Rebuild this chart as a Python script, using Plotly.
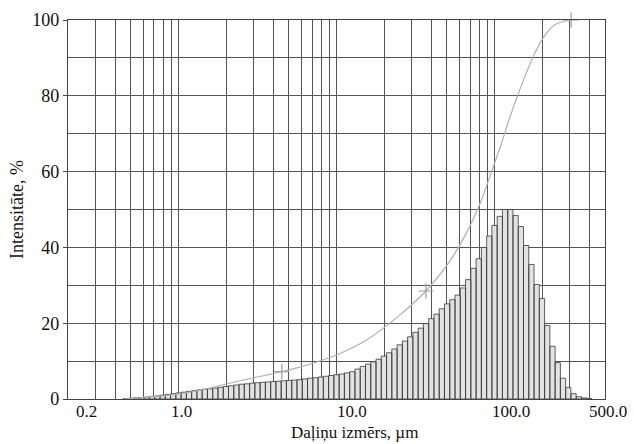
import numpy as np
import plotly.graph_objects as go

# ---------------- data ----------------
# Instrument size classes: log-spaced bins (30 per decade) starting at 10**-0.35 um
bin_log_start = -0.35
bins_per_decade = 30

# Bar heights (intensity, %), one per size class
intensity = [
    0.1, 0.2, 0.3, 0.4, 0.5, 0.7, 0.8, 1.0, 1.2, 1.4,
    1.6, 1.8, 2.0, 2.2, 2.4, 2.6, 2.7, 2.9, 3.1, 3.3,
    3.5, 3.7, 3.9, 4.0, 4.2, 4.3, 4.4, 4.5, 4.6, 4.7,
    4.8, 4.9, 5.0, 5.1, 5.3, 5.5, 5.6, 5.8, 6.0, 6.2,
    6.4, 6.6, 6.9, 7.2, 7.9, 8.6, 9.2, 9.8, 10.5, 11.3,
    12.2, 13.2, 14.3, 15.3, 16.4, 17.6, 18.7, 19.9, 21.2, 22.4,
    23.8, 25.1, 26.2, 27.4, 29.3, 31.5, 34.5, 37.0, 40.0, 43.0,
    45.8, 48.2, 50.0, 50.0, 48.4, 45.5, 40.5, 35.5, 30.2, 26.5,
    19.4, 13.9, 9.6, 5.5, 3.0, 1.4, 0.6, 0.3, 0.1,
]

# Cumulative curve (size um, %)
cum_size = [0.45, 0.89, 1.37, 1.98, 2.84, 4.51, 5.85, 9.44, 12.4, 15.4,
            24.9, 36.8, 51.4, 65.8, 81.7, 95.8, 110.7, 124.3, 152, 181,
            209, 242, 284, 305]
cum_value = [0, 1.0, 2.3, 3.9, 5.4, 7.2, 8.4, 11.2, 13.4, 15.5,
             22.0, 28.5, 36.0, 43.5, 52.0, 60.0, 67.5, 74.0, 84.0, 91.5,
             96.0, 98.8, 99.8, 100]

# Marked points on the cumulative curve
mark_size = [4.51, 36.8, 305]
mark_value = [7.2, 28.5, 100]

x_tick_vals = [0.2, 1, 10, 100, 500]
x_tick_text = ["0.2", "1.0", "10.0", "100.0", "500.0"]
x_grid_vals = ([m * 0.1 for m in range(2, 10)] + list(range(1, 10))
               + [10 * m for m in range(1, 10)] + [100 * m for m in range(1, 6)])
y_tick_vals = [0, 20, 40, 60, 80, 100]

x_title = "Daļiņu izmērs, µm"
y_title = "Intensitāte, %"

# label offsets (style, px) as printed in the original
x_label_shift = [18, 3, 15, 16, 3]

# ---------------- figure ----------------
n = len(intensity)
edges = 10 ** (bin_log_start + np.arange(n + 1) / bins_per_decade)

bx, by = [], []
for i, h in enumerate(intensity):
    lo, hi = edges[i], edges[i + 1]
    bx += [lo, lo, hi, hi, lo, None]
    by += [0, h, h, 0, 0, None]

FONT = "Liberation Serif"
GRID = "#555555"

fig = go.Figure()
fig.add_trace(go.Scatter(
    x=bx, y=by, mode="lines", fill="toself", fillcolor="#e2e2e2",
    line=dict(color="#3a3a3a", width=0.8), hoverinfo="skip", showlegend=False))
fig.add_trace(go.Scatter(
    x=cum_size, y=cum_value, mode="lines",
    line=dict(color="#b0b0b0", width=1.2, shape="spline", smoothing=0.8),
    showlegend=False, hoverinfo="skip"))
fig.add_trace(go.Scatter(
    x=mark_size, y=mark_value, mode="markers",
    marker=dict(symbol="cross-thin-open", size=11, color="#a0a0a0",
                line=dict(color="#a0a0a0", width=1.2)),
    showlegend=False, cliponaxis=False, hoverinfo="skip"))

for v, t, s in zip(x_tick_vals, x_tick_text, x_label_shift):
    fig.add_annotation(x=np.log10(v), y=0, xref="x", yref="paper", text=t,
                       showarrow=False, xanchor="center", yanchor="top",
                       xshift=s, yshift=-1, font=dict(size=17, family=FONT, color="#111111"))

fig.add_annotation(x=0.5, y=0, xref="paper", yref="paper", text=x_title,
                   showarrow=False, xanchor="center", yanchor="top",
                   xshift=18, yshift=-22, font=dict(size=17, family=FONT, color="#111111"))

fig.update_layout(
    width=634, height=444,
    margin=dict(l=68, r=29, t=20, b=45, autoexpand=False),
    paper_bgcolor="white", plot_bgcolor="white",
    font=dict(family=FONT, color="#111111"),
    xaxis=dict(
        type="log", range=[np.log10(0.2), np.log10(500)],
        tickmode="array", tickvals=x_tick_vals, ticktext=x_tick_text,
        showticklabels=False, ticks="",
        showgrid=True, gridcolor=GRID, gridwidth=1.2,
        minor=dict(tickmode="array", tickvals=x_grid_vals, showgrid=True,
                   gridcolor=GRID, gridwidth=1.2, ticks=""),
        showline=True, mirror=True, linecolor="#444444", linewidth=1.2,
        zeroline=False,
    ),
    yaxis=dict(
        range=[0, 100], tickmode="array", tickvals=y_tick_vals,
        tickfont=dict(size=18, family=FONT), ticks="outside", ticklen=4,
        tickcolor="#444444",
        showgrid=True, gridcolor=GRID, gridwidth=1.2,
        minor=dict(dtick=10, showgrid=True, gridcolor=GRID, gridwidth=1.2),
        showline=True, mirror=True, linecolor="#444444", linewidth=1.2,
        zeroline=False,
        title=dict(text=y_title, font=dict(size=18, family=FONT), standoff=3),
    ),
)

fig.write_html("out.html")
